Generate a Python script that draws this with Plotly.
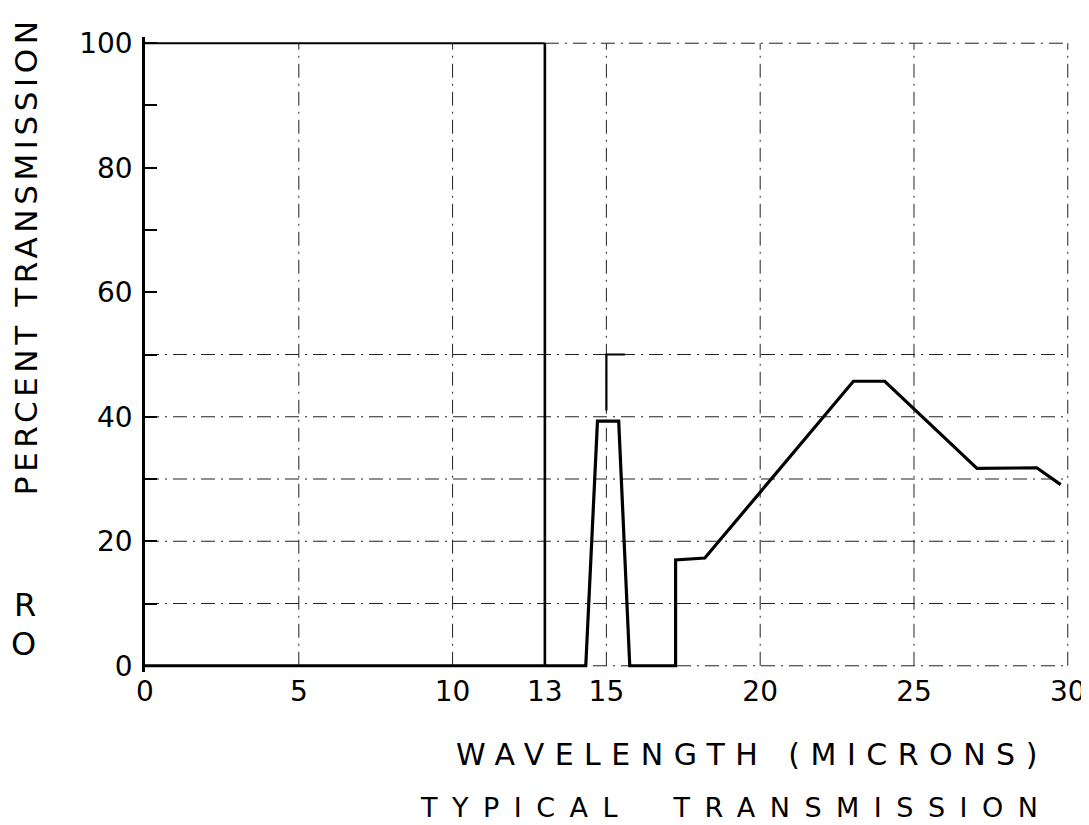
import plotly.graph_objects as go

# ---- data ----
wavelength = [0, 14.33, 14.71, 15.40, 15.76, 17.25, 17.25, 18.2, 23.03, 24.05, 27.05, 28.99, 29.77]
transmission = [0, 0, 39.3, 39.3, 0, 0, 17.0, 17.3, 45.7, 45.7, 31.7, 31.8, 29.1]

cutoff_x = [13, 13]
cutoff_y = [0, 100]
top_x = [0, 13]
top_y = [100, 100]
marker_x = [15, 15, 15.6]
marker_y = [41, 50, 50]

x_ticks = [0, 5, 10, 13, 15, 20, 25, 30]
x_tick_text = ["0", "5", "10", "13", "15", "20", "25", "30"]
y_ticks = [0, 20, 40, 60, 80, 100]
y_tick_text = ["0", "20", "40", "60", "80", "100"]
grid_x = [5, 10, 15, 20, 25, 30]
grid_y = [0, 10, 20, 30, 40, 50]
top_grid_x = [13, 30]

# ---- layout geometry (page has an 8px body margin) ----
OFF = 8
W, H = 1089 - OFF, 825 - OFF
ML, MR, MT, MB = 137, 3, 29, 153
PW, PH = W - ML - MR, H - MT - MB
FONT = "DejaVu Sans"


def px(xp):
    return (xp - OFF - ML) / PW


def py(yp):
    return (H - MB - (yp - OFF)) / PH


fig = go.Figure()

fig.add_trace(go.Scatter(x=wavelength, y=transmission, mode="lines",
                         line=dict(color="black", width=3.2), showlegend=False,
                         hoverinfo="skip"))
fig.add_trace(go.Scatter(x=cutoff_x, y=cutoff_y, mode="lines",
                         line=dict(color="black", width=2.6), showlegend=False))
fig.add_trace(go.Scatter(x=top_x, y=top_y, mode="lines",
                         line=dict(color="black", width=2.2), showlegend=False))
fig.add_trace(go.Scatter(x=marker_x, y=marker_y, mode="lines",
                         line=dict(color="black", width=2.2), showlegend=False))

DASH = "14px,6px,2px,6px"
shapes = []
for gx in grid_x:
    shapes.append(dict(type="line", xref="x", yref="y", x0=gx, x1=gx, y0=0, y1=100,
                       line=dict(color="#222", width=1, dash=DASH), layer="below"))
for gy in grid_y:
    shapes.append(dict(type="line", xref="x", yref="y", x0=0, x1=30, y0=gy, y1=gy,
                       line=dict(color="#222", width=1, dash=DASH), layer="below"))
shapes.append(dict(type="line", xref="x", yref="y", x0=top_grid_x[0], x1=top_grid_x[1],
                   y0=100, y1=100, line=dict(color="#222", width=1, dash=DASH), layer="below"))

annotations = [
    dict(text='<span style="letter-spacing:10.5px">WAVELENGTH (MICRONS)</span>',
         x=px(758), y=py(754), xref="paper", yref="paper", showarrow=False,
         xanchor="center", yanchor="middle", font=dict(family=FONT, size=30, color="black")),
    dict(text='<span style="letter-spacing:14.5px">TYPICAL\u2003TRANSMISSION</span>',
         x=px(742), y=py(808), xref="paper", yref="paper", showarrow=False,
         xanchor="center", yanchor="middle", font=dict(family=FONT, size=27, color="black")),
    dict(text='<span style="letter-spacing:4.6px">PERCENT TRANSMISSION</span>',
         x=px(25), y=py(256), xref="paper", yref="paper", showarrow=False, textangle=-90,
         xanchor="center", yanchor="middle", font=dict(family=FONT, size=31, color="black")),
    dict(text="R", x=px(24), y=py(605), xref="paper", yref="paper", showarrow=False,
         xanchor="center", yanchor="middle", font=dict(family=FONT, size=32, color="black")),
    dict(text="O", x=px(22), y=py(644), xref="paper", yref="paper", showarrow=False,
         xanchor="center", yanchor="middle", font=dict(family=FONT, size=32, color="black")),
]

fig.update_layout(
    width=W, height=H,
    margin=dict(l=ML, r=MR, t=MT, b=MB, pad=0),
    paper_bgcolor="white", plot_bgcolor="white",
    showlegend=False,
    shapes=shapes,
    annotations=annotations,
    font=dict(family=FONT, size=28, color="black"),
    xaxis=dict(range=[0, 30.3], tickvals=x_ticks, ticktext=x_tick_text, showgrid=False,
               zeroline=False, showline=False, ticks="", ticklabelstandoff=0,
               ticklabeloverflow="allow",
               tickfont=dict(family=FONT, size=28, color="black")),
    yaxis=dict(range=[-1, 101], tickvals=y_ticks, ticktext=y_tick_text, showgrid=False,
               zeroline=False, showline=True, linecolor="black", linewidth=2.6,
               ticks="inside", ticklen=12, tickwidth=1.5, tickcolor="black",
               minor=dict(ticks="inside", ticklen=12, tickwidth=1.5, tickcolor="black", dtick=10),
               ticklabelstandoff=4,
               tickfont=dict(family=FONT, size=28, color="black")),
)

fig.write_html("out.html")
